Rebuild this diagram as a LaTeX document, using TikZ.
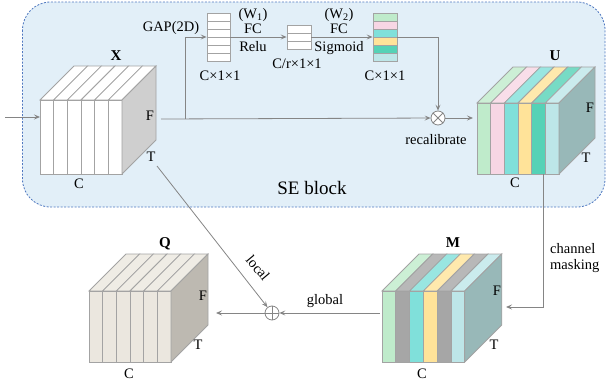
\documentclass[tikz,border=0pt]{standalone}
\usepackage{fontspec}
\setmainfont{Liberation Serif}
\usetikzlibrary{arrows.meta}
\definecolor{seblue}{HTML}{E2EFF8}
\definecolor{sedash}{HTML}{4F78C0}
\definecolor{cubeedge}{HTML}{A3A3A3}
\definecolor{conncol}{HTML}{858585}
\definecolor{cgreen}{HTML}{BFEBCB}
\definecolor{cpink}{HTML}{F7D6E4}
\definecolor{cteal}{HTML}{80E0DA}
\definecolor{cyellow}{HTML}{FFE399}
\definecolor{csea}{HTML}{55D2B6}
\definecolor{ccyan}{HTML}{BDE6E8}
\definecolor{cgray}{HTML}{A6A6A6}
\definecolor{cside}{HTML}{98B8B8}
\definecolor{xside}{HTML}{CFCFCF}
\definecolor{qbeige}{HTML}{EBE7DF}
\definecolor{qside}{HTML}{BDB9B1}
\tikzset{
  conn/.style={draw=conncol, line width=0.8pt},
  arr/.style={conn, -{Stealth[length=6pt,width=5pt,inset=2.5pt]}},
  lbl/.style={font=\fontsize{14.5}{16}\selectfont, inner sep=1pt},
  cubelbl/.style={font=\fontsize{15}{17}\selectfont\bfseries, inner sep=1pt},
  cell/.style={draw=cubeedge, line width=0.8pt},
  opnode/.style={circle, draw=conncol, line width=0.8pt, fill=white, minimum size=14pt, inner sep=0pt},
}
% six-slab block: #1,#2 front top-left corner, #3 slab width, #4 height,
% #5 depth, #6 slab colours, #7 side colour
\newcommand\slabcube[7]{%
  \foreach \c [count=\i from 0] in {#6} {
    \pgfmathsetmacro\xa{#1+\i*#3}
    \path[cell, fill=\c!80!white] (\xa,#2) -- ++(#5,-#5) -- ++(#3,0) -- ++(-#5,#5) -- cycle;
    \path[cell, fill=\c] (\xa,#2) rectangle ++(#3,#4);
  }
  \pgfmathsetmacro\xr{#1+6*#3}
  \path[cell, fill=#7] (\xr,#2) -- ++(#5,-#5) -- ++(0,#4) -- ++(-#5,#5) -- cycle;
}
\begin{document}
\begin{tikzpicture}[x=1pt, y=-1pt]
\useasboundingbox (0,0) rectangle (606,383);

% SE block frame
\path[fill=seblue, draw=sedash, line width=0.8pt, dash pattern=on 2pt off 1.5pt, rounded corners=28pt]
  (22.5,2) rectangle (605,207);
\node[font=\fontsize{19}{21}\selectfont] (selabel) at (312,188) {SE block};

% feature blocks
\slabcube{40}{100}{13.67}{74}{34}{white,white,white,white,white,white}{xside}
\slabcube{477}{103}{13.67}{71}{36}{cgreen,cpink,cteal,cyellow,csea,ccyan}{cside}
\slabcube{382}{291}{13.8}{71}{37}{cgreen,cgray,cteal,cyellow,cgray,ccyan}{cside}
\slabcube{89}{291}{13.67}{71}{37}{qbeige,qbeige,qbeige,qbeige,qbeige,qbeige}{qside}

% block labels
\node[cubelbl] (xname) at (116,56) {X};
\node[lbl] (xf) at (150,116) {F};
\node[lbl] (xt) at (151,157) {T};
\node[lbl] (xc) at (79,184) {C};
\node[cubelbl] (uname) at (555,56) {U};
\node[lbl] (uf) at (590,108) {F};
\node[lbl] (ut) at (586,158) {T};
\node[lbl] (uc) at (515,183) {C};
\node[cubelbl] (mname) at (453,243) {M};
\node[lbl] (mf) at (497,291) {F};
\node[lbl] (mt) at (494,345) {T};
\node[lbl] (mc) at (422,374) {C};
\node[cubelbl] (qname) at (165,244) {Q};
\node[lbl] (qf) at (203,296) {F};
\node[lbl] (qt) at (198,345) {T};
\node[lbl] (qc) at (129,374) {C};

% squeeze / excitation vectors
\node[draw=cubeedge, line width=0.8pt, fill=white, minimum width=23pt, minimum height=48pt, inner sep=0pt] (v1) at (218.5,37) {};
\foreach \k in {1,...,5} \draw[cell] (207,13+8*\k) -- (230,13+8*\k);
\node[draw=cubeedge, line width=0.8pt, fill=white, minimum width=24pt, minimum height=24pt, inner sep=0pt] (v2) at (299,37) {};
\foreach \k in {1,2} \draw[cell] (287,25+8*\k) -- (311,25+8*\k);
\node[draw=cubeedge, line width=0.8pt, minimum width=24pt, minimum height=48pt, inner sep=0pt] (v3) at (385,37) {};
\foreach \c [count=\k from 0] in {cgreen,cpink,cteal,cyellow,csea,ccyan}
  \path[cell, fill=\c] (373,13+8*\k) rectangle ++(24,8);

\node[lbl] (v1dim) at (220,76) {C×1×1};
\node[lbl] (v2dim) at (297,64) {C/r×1×1};
\node[lbl] (v3dim) at (385,76) {C×1×1};
\node[lbl] (gap) at (171,28) {GAP(2D)};
\node[lbl] (w1) at (253,15) {(W\textsubscript{1})};
\node[lbl] (fc1) at (253,29) {FC};
\node[lbl] (relu) at (253,47) {Relu};
\node[lbl] (w2) at (339,15) {(W\textsubscript{2})};
\node[lbl] (fc2) at (339,29) {FC};
\node[lbl] (sigm) at (339,48) {Sigmoid};

% operators
\node[opnode] (mul) at (438,118) {};
\draw[conncol, line width=0.8pt] (mul.north east) -- (mul.south west) (mul.north west) -- (mul.south east);
\node[opnode, fill=none] (add) at (272,313) {};
\draw[conncol, line width=0.8pt] (add.north) -- (add.south) (add.west) -- (add.east);

\node[lbl] (recal) at (436,140) {recalibrate};
\node[lbl, align=left, anchor=west] (mask) at (549,258) {channel\\masking};
\node[lbl] (glob) at (325,301) {global};
\node[lbl, rotate=-50] (loc) at (258,268) {local};

% anchor points on the blocks
\coordinate (src) at (5,117);
\coordinate (xin) at (40,117);
\coordinate (xout) at (161,119);
\coordinate (branch) at (185,119);
\coordinate (uin) at (473,118);
\coordinate (ubot) at (543,174);
\coordinate (min) at (506,307);
\coordinate (mout) at (380,313);
\coordinate (qin) at (216,313);
\coordinate (xlocal) at (157,166);

% connectors
\draw[arr] (src) -- (xin);
\draw[arr] (xout) -- (mul);
\draw[arr] (branch) |- (v1.west);
\draw[arr] (v1.east) -- (v2.west);
\draw[arr] (v2.east) -- (v3.west);
\draw[arr] (v3.east) -| (mul.north);
\draw[arr] (mul.east) -- (uin);
\draw[arr] (ubot) |- (min);
\draw[arr] (mout) -- (add.east);
\draw[arr] (add.west) -- (qin);
\draw[arr] (xlocal) -- (add);
\end{tikzpicture}
\end{document}
